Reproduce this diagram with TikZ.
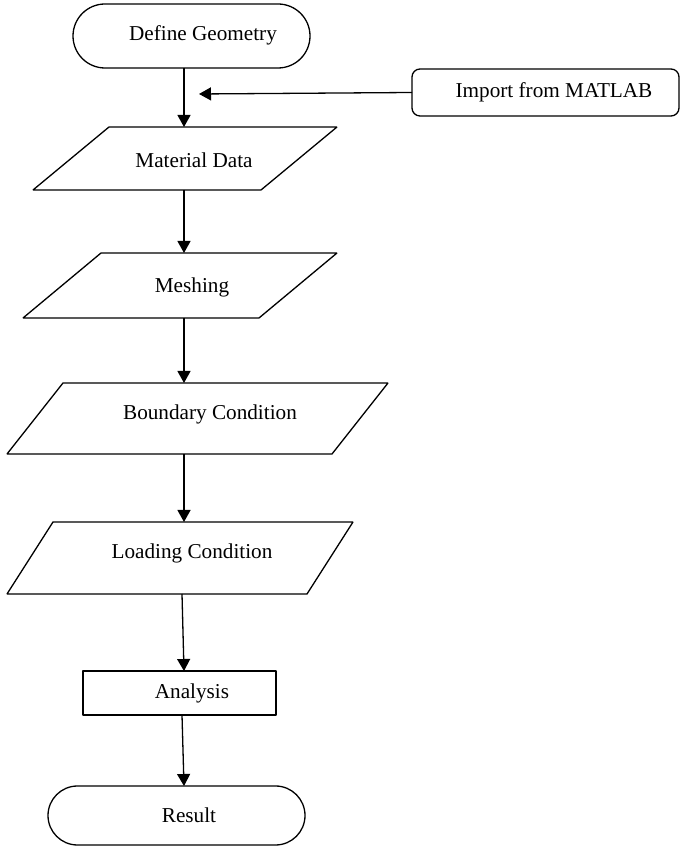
\documentclass[tikz,border=0pt]{standalone}
\usepackage{fontspec}
\setmainfont{Liberation Serif}
\usetikzlibrary{arrows.meta}
\tikzset{
  term/.style={draw,rounded corners=#1,inner sep=0pt,outer sep=0pt},
  iobox/.style={draw=none,inner sep=0pt,outer sep=0pt},
  procbox/.style={draw,inner sep=0pt,outer sep=0pt},
}
\begin{document}
\begin{tikzpicture}[>={Triangle[length=6bp,width=6.5bp]},line join=bevel,line width=0.65bp,
  font=\fontsize{10.6bp}{12.7bp}\selectfont]
\useasboundingbox (0bp,0bp) rectangle (340bp,423bp);
%%
\node (define) at (95.75bp,405bp) [term=16bp,minimum width=118.5bp,minimum height=32bp,
  label={[xshift=5.75bp,yshift=0.5bp]center:Define Geometry}] {};
  \node (import) at (272.75bp,376.75bp) [term=4bp,minimum width=133.5bp,minimum height=23.5bp,
  label={[xshift=4.25bp]center:Import from MATLAB}] {};
  \coordinate (import_in) at (99.5bp,376bp);
  \coordinate (spine) at (92bp,0bp);
%
\node (material) at (92.5bp,343.75bp) [iobox,minimum width=152bp,minimum height=31.5bp,
  label={[xshift=4.5bp,yshift=-1bp]center:Material Data}] {};
  \draw ([xshift=38bp]material.north west) -- (material.north east) -- ([xshift=-38bp]material.south east) -- (material.south west) -- cycle;
  \node (meshing) at (90bp,280.25bp) [iobox,minimum width=157bp,minimum height=32.5bp,
  label={[xshift=6bp,yshift=-0.75bp]center:Meshing}] {};
  \draw ([xshift=39bp]meshing.north west) -- (meshing.north east) -- ([xshift=-39bp]meshing.south east) -- (meshing.south west) -- cycle;
  \node (boundary) at (98.75bp,213.75bp) [iobox,minimum width=190.5bp,minimum height=35.5bp,
  label={[xshift=6.25bp,yshift=2.25bp]center:Boundary Condition}] {};
  \draw ([xshift=28bp]boundary.north west) -- (boundary.north east) -- ([xshift=-28bp]boundary.south east) -- (boundary.south west) -- cycle;
  \node (loading) at (90bp,144bp) [iobox,minimum width=173bp,minimum height=36bp,
  label={[xshift=6bp,yshift=2.5bp]center:Loading Condition}] {};
  \draw ([xshift=23bp]loading.north west) -- (loading.north east) -- ([xshift=-23bp]loading.south east) -- (loading.south west) -- cycle;
%
\node (analysis) at (89.75bp,76.5bp) [procbox,minimum width=96.5bp,minimum height=22bp,
  label={[xshift=6.25bp]center:Analysis}] {};
  \node (result) at (88.25bp,15.25bp) [term=14.75bp,minimum width=128.5bp,minimum height=29.5bp,
  label={[xshift=6.25bp]center:Result}] {};
%
\draw [black,->] (define.south -| spine) -- (material.north -| spine);
  \draw [black,->] (import.west) -- (import_in);
  \draw [black,->] (material.south -| spine) -- (meshing.north -| spine);
  \draw [black,->] (meshing.south -| spine) -- (boundary.north -| spine);
  \draw [black,->] (boundary.south -| spine) -- (loading.north -| spine);
  \draw [black,->] ([xshift=-1bp]loading.south -| spine) -- (analysis.north -| spine);
  \draw [black,->] ([xshift=-1bp]analysis.south -| spine) -- (result.north -| spine);
%
\end{tikzpicture}
\end{document}
